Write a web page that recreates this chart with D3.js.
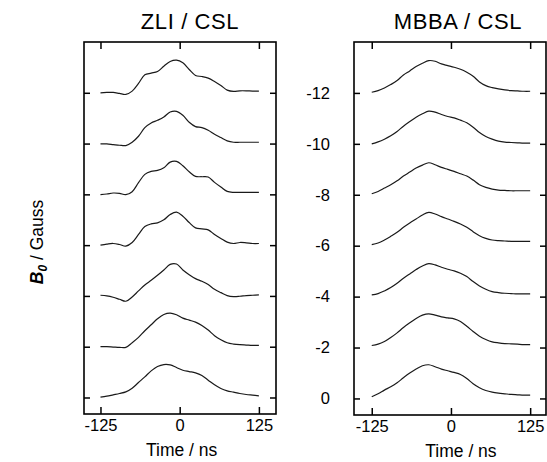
<!DOCTYPE html>
<html>
<head>
<meta charset="utf-8">
<script src="https://cdn.jsdelivr.net/npm/d3@7"></script>
<style>
  body { margin: 0; background: #fff; }
  svg { font-family: "Liberation Sans", Arial, Helvetica, sans-serif; }
  .frame { fill: none; stroke: #000; stroke-width: 1.6; }
  .axis path { display: none; }
  .axis line { stroke: #000; stroke-width: 1.5; }
  .axis text { font-size: 16.5px; fill: #000; }
  .trace { fill: none; stroke: #1a1a1a; stroke-width: 1.2; }
  .panel-title { font-size: 22px; letter-spacing: 0.6px; }
  .axis-title { font-size: 17.5px; }
</style>
</head>
<body>
<svg id="chart"></svg>
<script>
// time axis of every trace (ns)
const times = [-125, -115, -105, -95, -85, -75, -65, -55, -45, -35, -25, -15, -5,
               5, 15, 25, 35, 45, 55, 65, 75, 85, 95, 105, 115, 125];

// field offsets (Gauss) and tick labels
const fields = [0, -2, -4, -6, -8, -10, -12];
const timeTicks = [-125, 0, 125];

// ZLI / CSL echo traces, intensity in a.u.
const zli_0   = [1, 4, 8, 12, 17, 28, 45, 62, 80, 93, 99, 98, 90, 82, 78, 74, 66, 52, 38, 27, 20, 16, 12, 9, 7, 5];
const zli_m2  = [0, 0, -1, -2, -2, 12, 28, 48, 66, 84, 97, 101, 96, 86, 80, 74, 64, 50, 33, 21, 12, 8, 6, 5, 4, 4];
const zli_m4  = [2, 0, -4, -10, -16, -3, 15, 33, 47, 62, 78, 95, 96, 78, 64, 52, 44, 34, 20, 10, 1, -2, -1, 1, 2, 3];
const zli_m6  = [0, 3, 5, 2, -3, 8, 32, 56, 64, 67, 76, 92, 99, 87, 68, 52, 49, 46, 32, 20, 9, 5, 8, 7, 5, 5];
const zli_m8  = [-1, 1, 4, 3, -1, 8, 35, 60, 69, 72, 80, 97, 99, 86, 68, 54, 53, 52, 36, 22, 9, 6, 6, 6, 6, 6];
const zli_m10 = [-1, -1, -3, -5, -6, 4, 22, 48, 62, 70, 80, 95, 97, 85, 64, 51, 48, 40, 28, 18, 8, 4, 4, 4, 4, 4];
const zli_m12 = [0, 1, 1, -2, -5, 5, 28, 54, 59, 64, 80, 94, 98, 90, 70, 52, 49, 44, 34, 22, 8, 4, 6, 6, 5, 5];

// MBBA / CSL echo traces, intensity in a.u.
const mbba_0   = [5, 14, 25, 35, 47, 62, 76, 88, 98, 101, 95, 88, 83, 78, 72, 60, 44, 32, 24, 19, 16, 14, 12, 11, 10, 10];
const mbba_m2  = [6, 10, 18, 30, 44, 60, 74, 87, 97, 101, 97, 92, 89, 86, 78, 64, 48, 34, 24, 17, 14, 12, 11, 10, 9, 9];
const mbba_m4  = [5, 9, 17, 27, 40, 55, 68, 81, 92, 99, 95, 88, 82, 77, 70, 60, 45, 32, 22, 15, 12, 10, 9, 8, 8, 8];
const mbba_m6  = [3, 8, 17, 28, 40, 55, 68, 80, 92, 100, 95, 87, 80, 73, 65, 55, 42, 30, 22, 17, 15, 14, 13, 13, 13, 13];
const mbba_m8  = [3, 10, 20, 30, 42, 56, 68, 80, 89, 96, 90, 82, 76, 70, 63, 56, 44, 30, 22, 17, 14, 13, 12, 12, 12, 12];
const mbba_m10 = [0, 6, 14, 24, 37, 53, 67, 80, 90, 98, 95, 88, 82, 78, 71, 63, 50, 34, 22, 14, 8, 5, 4, 3, 2, 2];
const mbba_m12 = [2, 7, 15, 25, 37, 54, 66, 79, 89, 97, 95, 87, 82, 77, 71, 62, 50, 33, 22, 16, 12, 9, 7, 6, 5, 5];

const zliTraces = [zli_0, zli_m2, zli_m4, zli_m6, zli_m8, zli_m10, zli_m12];
const mbbaTraces = [mbba_0, mbba_m2, mbba_m4, mbba_m6, mbba_m8, mbba_m10, mbba_m12];

const width = 547, height = 462;
const svg = d3.select('#chart').attr('width', width).attr('height', height);

// intensity (a.u.) -> field units for the stacked display
const ampScale = d3.scaleLinear().domain([0, 100]).range([0, 1.31]);

// plain hyphen minus like the original figure
const plainFmt = d => String(d);

function drawPanel(cfg) {
    const g = svg.append('g').attr('transform', `translate(${cfg.left},${cfg.top})`);
    const w = cfg.width, h = cfg.height;

    const x = d3.scaleLinear().domain(cfg.xDomain).range([0, w]);
    const y = d3.scaleLinear().domain([0.65, -14]).range([h, 0]);

    // traces
    const line = d3.line()
        .x(d => x(d.t))
        .y(d => y(d.field - ampScale(d.a)))
        .curve(d3.curveCatmullRom.alpha(0.5));

    cfg.traces.forEach((tr, i) => {
        const pts = times.map((t, j) => ({t: t, a: tr[j], field: fields[i]}));
        g.append('path').attr('class', 'trace').attr('d', line(pts));
    });

    // axes, ticks pointing inward
    g.append('g').attr('class', 'axis')
        .attr('transform', `translate(0,${h})`)
        .call(d3.axisBottom(x).tickValues(timeTicks).tickSize(-7).tickPadding(5).tickFormat(plainFmt));
    g.append('g').attr('class', 'axis')
        .call(d3.axisTop(x).tickValues(timeTicks).tickSize(-7).tickFormat(''));
    g.append('g').attr('class', 'axis')
        .call(d3.axisLeft(y).tickValues(fields).tickSize(-6).tickPadding(24)
            .tickFormat(cfg.yLabels ? plainFmt : ''));
    g.append('g').attr('class', 'axis')
        .attr('transform', `translate(${w},0)`)
        .call(d3.axisRight(y).tickValues(fields).tickSize(-6).tickFormat(''));

    g.append('rect').attr('class', 'frame')
        .attr('x', 0).attr('y', 0).attr('width', w).attr('height', h);

    g.append('text').attr('class', 'panel-title')
        .attr('x', w / 2 + cfg.titleShift).attr('y', -13)
        .attr('text-anchor', 'middle')
        .text(cfg.title);

    g.append('text').attr('class', 'axis-title')
        .attr('x', x(0) + cfg.xTitleShift).attr('y', h + 42)
        .attr('text-anchor', 'middle')
        .text('Time / ns');
}

drawPanel({left: 84, top: 42, width: 192, height: 372, xDomain: [-151, 152],
           traces: zliTraces, title: 'ZLI / CSL', titleShift: 10, xTitleShift: 2, yLabels: false});
drawPanel({left: 354, top: 42, width: 192, height: 373, xDomain: [-153, 150],
           traces: mbbaTraces, title: 'MBBA / CSL', titleShift: 8, xTitleShift: 10, yLabels: true});

// field axis title
const yt = svg.append('text').attr('class', 'axis-title')
    .attr('transform', 'translate(43,242) rotate(-90)')
    .attr('text-anchor', 'middle');
yt.append('tspan').attr('font-weight', 'bold').attr('font-style', 'italic').text('B');
yt.append('tspan').attr('font-weight', 'bold').attr('font-style', 'italic')
    .attr('font-size', '12px').attr('dy', 4).text('0');
yt.append('tspan').attr('dy', -4).text(' / Gauss');
</script>
</body>
</html>
